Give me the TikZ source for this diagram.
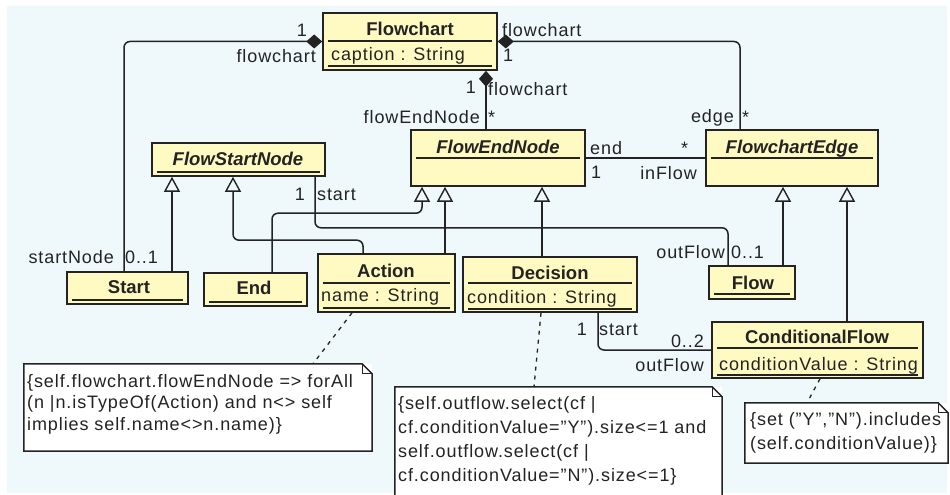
\documentclass[tikz,border=0pt]{standalone}
\usepackage{fontspec}
\setmainfont{Liberation Sans}[LetterSpace=5,BoldFeatures={LetterSpace=0},BoldItalicFeatures={LetterSpace=0}]
\usetikzlibrary{arrows.meta}
\definecolor{panel}{RGB}{239,249,251}
\definecolor{clsfill}{RGB}{255,250,194}
\definecolor{ink}{RGB}{35,35,35}
\tikzset{
  cls/.style={draw=ink, line width=1.6pt, fill=clsfill, inner sep=0pt, rectangle},
  sep/.style={draw=ink, line width=1.4pt},
  lbl/.style={inner sep=0pt, text=ink, font=\fontsize{18}{21}\selectfont},
  ttl/.style={lbl, anchor=base, font=\fontsize{18.5}{21}\selectfont\bfseries},
  ittl/.style={lbl, anchor=base, font=\fontsize{18.5}{21}\selectfont\bfseries\itshape},
  attr/.style={lbl, anchor=base west},
  conn/.style={draw=ink, line width=1.5pt, rounded corners=6pt},
  gen/.style={conn, -{Triangle[open, width=16pt, length=15pt, line width=1.4pt]}},
  comp/.style={conn, {Diamond[width=14pt, length=16pt]}-},
  notebg/.style={draw=none, fill=white, inner sep=0pt, rectangle},
  noteline/.style={draw=ink, line width=1.5pt},
  anchorline/.style={draw=ink, line width=1.3pt, dash pattern=on 4pt off 5pt},
}
\begin{document}
\begin{tikzpicture}[x=1pt,y=-1pt]
\useasboundingbox (0,0) rectangle (950,495);
\fill[white] (0,0) rectangle (950,495);
\fill[panel] (7,6) rectangle (947,493);

% ---- class boxes ----
\node[cls, minimum width=174pt, minimum height=57pt] (fc)    at (410,41.5)  {};
\node[cls, minimum width=173pt, minimum height=33pt] (fsn)   at (238.5,159.5) {};
\node[cls, minimum width=174pt, minimum height=56pt] (fen)   at (498,158)   {};
\node[cls, minimum width=172pt, minimum height=56pt] (fe)    at (792,158)   {};
\node[cls, minimum width=121pt, minimum height=32pt] (start) at (127.5,288) {};
\node[cls, minimum width=103pt, minimum height=33pt] (end)   at (255.5,289.5) {};
\node[cls, minimum width=137pt, minimum height=58pt] (act)   at (386.5,283) {};
\node[cls, minimum width=174pt, minimum height=55pt] (dec)   at (550,284.5) {};
\node[cls, minimum width=86pt,  minimum height=33pt] (flow)  at (752,282.5) {};
\node[cls, minimum width=211pt, minimum height=56pt] (cf)    at (817.5,350) {};

% compartment separators
\draw[sep] (328,41) -- (492,41);  \draw[sep] (328,66) -- (492,66);
\draw[sep] (157,172) -- (320,172);
\draw[sep] (416,158) -- (580,158);
\draw[sep] (711,158) -- (873,158);
\draw[sep] (72,300) -- (183,300);
\draw[sep] (209,302) -- (302,302);
\draw[sep] (323,283) -- (450,283); \draw[sep] (323,308) -- (450,308);
\draw[sep] (468,283) -- (632,283); \draw[sep] (468,309) -- (632,309);
\draw[sep] (714,294) -- (790,294);
\draw[sep] (717,348) -- (918,348); \draw[sep] (717,375) -- (918,375);

% class names and attributes
\node[ttl]  (tfc)    at (410,36)  {Flowchart};
\node[attr] (afc)    at (331,60)  {caption : String};
\node[ittl] (tfsn)   at (238,165) {FlowStartNode};
\node[ittl] (tfen)   at (498,153) {FlowEndNode};
\node[ittl] (tfe)    at (792,153) {FlowchartEdge};
\node[ttl]  (tstart) at (129,293) {Start};
\node[ttl]  (tend)   at (254,294) {End};
\node[ttl]  (tact)   at (386,277) {Action};
\node[attr] (aact)   at (321,301) {name : String};
\node[ttl]  (tdec)   at (550,279) {Decision};
\node[attr] (adec)   at (467,303) {condition : String};
\node[ttl]  (tflow)  at (753,289) {Flow};
\node[ttl]  (tcf)    at (817,343) {ConditionalFlow};
\node[attr] (acf)    at (719,370) {conditionValue : String};

% ---- compositions ----
\draw[comp] (fc.west) -| ([xshift=-3.5pt]start.north);
\draw[comp] (fc.east) -| ([xshift=-52pt]fe.north);
\draw[comp] ([xshift=76pt]fc.south) -- ([xshift=76pt]fc.south |- fen.north);

% ---- associations ----
\draw[conn] (fen.east) -- (fe.west);
\draw[conn] ([xshift=76.5pt]fsn.south) -- ++(0,51) -| ([xshift=-24pt]flow.north);
\draw[conn] ([xshift=48pt]dec.south) |- (cf.west);

% ---- generalisations ----
\draw[gen] ([xshift=44.5pt]start.north) -- ([xshift=44.5pt]start.north |- fsn.south);
\draw[gen] ([xshift=-23.5pt]act.north) -- ++(0,-13) -| ([xshift=-5.5pt]fsn.south);
\draw[gen] ([xshift=16.5pt]end.north) -- ++(0,-59) -| ([xshift=-76pt]fen.south);
\draw[gen] ([xshift=58.5pt]act.north) -- ([xshift=58.5pt]act.north |- fen.south);
\draw[gen] ([xshift=-8pt]dec.north) -- ([xshift=-8pt]dec.north |- fen.south);
\draw[gen] ([xshift=31pt]flow.north) -- ([xshift=31pt]flow.north |- fe.south);
\draw[gen] ([xshift=29.5pt]cf.north) -- ([xshift=29.5pt]cf.north |- fe.south);

% ---- role names and multiplicities ----
\node[lbl, anchor=base east] (m1)  at (307,37)  {1};
\node[lbl, anchor=base east] (r1)  at (316,63)  {flowchart};
\node[lbl, anchor=base east] (r2)  at (114,263) {startNode};
\node[lbl, anchor=base west] (m2)  at (125,263) {0..1};
\node[lbl, anchor=base west] (r3)  at (502,37)  {flowchart};
\node[lbl, anchor=base west] (m3)  at (503,62)  {1};
\node[lbl, anchor=base east] (m4)  at (476,93)  {1};
\node[lbl, anchor=base west] (r4)  at (488,95)  {flowchart};
\node[lbl, anchor=base east] (r5)  at (480,123) {flowEndNode};
\node[lbl, anchor=base west] (m5)  at (488,123) {*};
\node[lbl, anchor=base east] (r6)  at (734,122) {edge};
\node[lbl, anchor=base west] (m6)  at (742,123) {*};
\node[lbl, anchor=base west] (r7)  at (590,154) {end};
\node[lbl, anchor=base west] (m7)  at (591,178) {1};
\node[lbl, anchor=base west] (m8)  at (681,154) {*};
\node[lbl, anchor=base east] (r8)  at (697,179) {inFlow};
\node[lbl, anchor=base east] (m9)  at (305,200) {1};
\node[lbl, anchor=base west] (r9)  at (317,200) {start};
\node[lbl, anchor=base east] (r10) at (725,258) {outFlow};
\node[lbl, anchor=base west] (m10) at (731,258) {0..1};
\node[lbl, anchor=base east] (m11) at (587,335) {1};
\node[lbl, anchor=base west] (r11) at (599,335) {start};
\node[lbl, anchor=base east] (m12) at (704,347) {0..2};
\node[lbl, anchor=base east] (r12) at (704,371) {outFlow};

% ---- constraint notes ----
\node[notebg, minimum width=348pt, minimum height=87pt] (na) at (198,407.5) {};
\node[notebg, minimum width=327pt, minimum height=110pt] (nd) at (558.5,442) {};
\node[notebg, minimum width=203pt, minimum height=60pt] (nc) at (846.5,433) {};
\foreach \n in {na,nd,nc}{
  \draw[noteline] (\n.south west) -- (\n.north west) -- ([xshift=-10pt]\n.north east)
    -- ([yshift=-10pt]\n.north east) -- (\n.south east) -- cycle;
  \draw[noteline, line width=1pt] ([xshift=-10pt]\n.north east) -- ([xshift=-10pt,yshift=-10pt]\n.north east)
    -- ([yshift=-10pt]\n.north east);
}
\node[attr] (na1) at (27,387) {\{self.flowchart.flowEndNode => forAll};
\node[attr] (na2) at (27,408) {(n |n.isTypeOf(Action) and n<> self};
\node[attr] (na3) at (27,430) {implies self.name<>n.name)\}};
\node[attr] (nd1) at (398,409.5) {\{self.outflow.select(cf |};
\node[attr] (nd2) at (398,433.5) {cf.conditionValue="Y").size<=1 and};
\node[attr] (nd3) at (398,457.5) {self.outflow.select(cf |};
\node[attr] (nd4) at (398,481.5) {cf.conditionValue="N").size<=1\}};
\node[attr] (nc1) at (750,425) {\{set ("Y","N").includes};
\node[attr] (nc2) at (750,449) {(self.conditionValue)\}};

% note anchors
\draw[anchorline] ([xshift=-34.5pt]act.south) -- ([xshift=115pt]na.north);
\draw[anchorline] ([xshift=-9pt]dec.south) -- ([xshift=-24.5pt]nd.north);
\draw[anchorline] ([xshift=2.5pt]cf.south) -- ([xshift=-39.5pt]nc.north);
\end{tikzpicture}
\end{document}
